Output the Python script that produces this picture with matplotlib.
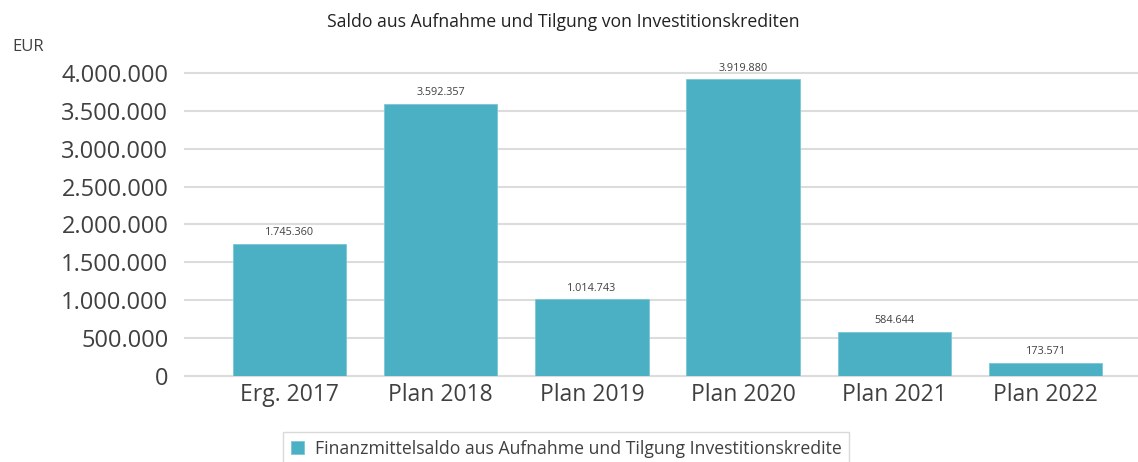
import matplotlib.pyplot as plt
import numpy as np

categories = ["Erg. 2017", "Plan 2018", "Plan 2019", "Plan 2020", "Plan 2021", "Plan 2022"]
values = [1745360, 3592357, 1014743, 3919880, 584644, 173571]
y_ticks = [0, 500000, 1000000, 1500000, 2000000, 2500000, 3000000, 3500000, 4000000]

title = "Saldo aus Aufnahme und Tilgung von Investitionskrediten"
series_name = "Finanzmittelsaldo aus Aufnahme und Tilgung Investitionskredite"


def de_fmt(v):
    return f"{v:,.0f}".replace(",", ".")


plt.rcParams['font.family'] = ['Open Sans', 'DejaVu Sans']
text_col = "#404040"
bar_col = "#4BB0C4"

fig = plt.figure(figsize=(11.38, 4.62), dpi=100)
ax = fig.add_axes([185 / 1138, 86 / 462, 1 - 185 / 1138, 303 / 462])

x = np.arange(len(categories))
bars = ax.bar(x, values, width=0.75, color=bar_col, edgecolor="#7cc7d6", linewidth=0.6,
              label=series_name, zorder=3)

for b, v in zip(bars, values):
    ax.annotate(de_fmt(v), (b.get_x() + b.get_width() / 2, v), xytext=(0, 4),
                textcoords="offset points", ha="center", va="bottom",
                fontsize=7.8, color=text_col)

ax.set_xlim(-0.69, 5.61)
ax.set_ylim(0, 4000000)
ax.set_yticks(y_ticks)
ax.set_yticklabels([de_fmt(t) for t in y_ticks], fontsize=17, color=text_col)
ax.set_xticks(x)
ax.set_xticklabels(categories, fontsize=16.5, color=text_col)
ax.tick_params(length=0, pad=12)
ax.tick_params(axis="x", pad=5)
ax.grid(axis="y", color="#dcdcdc", linewidth=1.5, zorder=0, clip_on=False)
ax.set_axisbelow(True)
for s in ax.spines.values():
    s.set_visible(False)

fig.text(563 / 1138, 1 - 22 / 462, title, ha="center", va="center", fontsize=12.7, color="#222222")
fig.text(12 / 1138, 1 - 47 / 462, "EUR", ha="left", va="center", fontsize=12, color=text_col)

leg = fig.legend(handles=[bars], labels=[series_name], loc="upper left",
                 bbox_to_anchor=(283 / 1138, 1 - 432 / 462), fontsize=12.7,
                 frameon=True, fancybox=False, handlelength=0.75, handleheight=0.75,
                 handletextpad=0.6, borderpad=0.45, borderaxespad=0, labelcolor=text_col)
leg.get_frame().set_edgecolor("#d0d0d0")
leg.get_frame().set_linewidth(1)

fig.savefig("out.png", dpi=100)
